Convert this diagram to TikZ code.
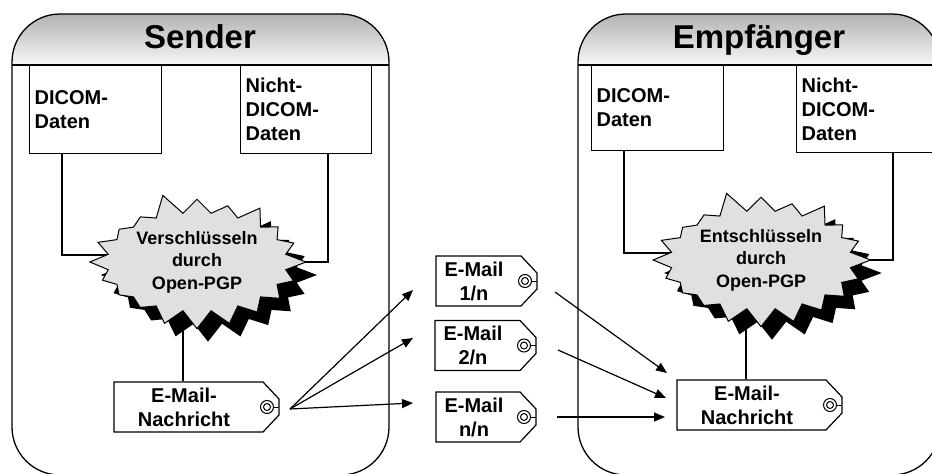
\documentclass[tikz,border=0pt]{standalone}
\usepackage{fontspec}
\setmainfont{Liberation Sans}
\usetikzlibrary{shapes.symbols,shadows,arrows.meta,calc,backgrounds}
\newcommand\tagoutline[3]{%
  \draw[tagline] ($(#1.center)+(#2,-25)$) -- ($(#1.center)+(#3-16,-25)$)
     -- ($(#1.center)+(#3,-8)$) -- ($(#1.center)+(#3,8)$)
     -- ($(#1.center)+(#3-16,25)$) -- ($(#1.center)+(#2,25)$) -- cycle;
  \draw[ringline] ($(#1.center)+(#3-12,0)$) circle (6.5pt) circle (3.5pt);
  \draw[ringline] ($(#1.center)+(#3-5.5,0)$) -- ($(#1.center)+(#3,0)$);
}
\begin{document}
\begin{tikzpicture}[x=1pt,y=-1pt,line width=1.2pt,
  panel/.style={draw,line width=1.3pt,rounded corners=48pt},
  title/.style={anchor=base,inner sep=0pt,font=\fontsize{33}{38}\selectfont\bfseries},
  databox/.style={draw,anchor=north west,inner xsep=5pt,inner ysep=0pt,
     text width=#1,align=left,minimum height=88pt,
     font=\fontsize{20}{24}\selectfont\bfseries},
  burst/.style={starburst,starburst points=20,starburst point height=22pt,
     random starburst=5,draw,line width=1pt,fill=black!12,inner xsep=3pt,inner ysep=4pt,
     drop shadow={shadow xshift=11pt,shadow yshift=-13pt,fill=black,opacity=1,draw=none},
     align=center,
     font=\fontsize{18}{22.5}\selectfont\bfseries},
  tagtext/.style={align=center,inner sep=0pt,minimum height=50pt,
     font=\fontsize{20}{24}\selectfont\bfseries},
  tagline/.style={draw,line width=1.2pt,fill=white},
  ringline/.style={draw,line width=1pt},
  conn/.style={draw,line width=1.2pt},
  arr/.style={draw,line width=1.2pt,-{Triangle[length=11pt,width=9pt]}}
]
\clip (0,0) rectangle (932,474);
% ---------- Sender panel ----------
\begin{scope}
  \clip[rounded corners=48pt] (12,14) rectangle (389,475);
  \shade[top color=black!30,bottom color=black!3] (12,14) rectangle (389,65);
\end{scope}
\draw[panel] (12,14) rectangle (389,475);
\draw[line width=1.3pt] (12,65) -- (389,65);
\node[title] (tS) at (200,48) {Sender};
% ---------- Receiver panel ----------
\begin{scope}
  \clip[rounded corners=48pt] (578,14) rectangle (940,475);
  \shade[top color=black!30,bottom color=black!3] (578,14) rectangle (940,65);
\end{scope}
\draw[panel] (578,14) rectangle (940,475);
\draw[line width=1.3pt] (578,65) -- (940,65);
\node[title] (tR) at (759,48) {Empfänger};
% ---------- data boxes ----------
\node[databox=122pt,minimum width=132pt] (d1) at (29,65) {DICOM-\\Daten};
\node[databox=121pt,minimum width=131pt] (n1) at (240,65) {Nicht-\\DICOM-\\Daten};
\node[databox=122pt,minimum width=132pt,minimum height=85pt] (d2) at (591,65) {DICOM-\\Daten};
\node[databox=129pt,minimum width=139pt,minimum height=87pt] (n2) at (796,65) {Nicht-\\DICOM-\\Daten};
% ---------- bursts ----------
\node[burst] (b1) at (197,262) {Verschlüsseln\\durch\\Open-PGP};
\node[burst] (b2) at (761,260) {Entschlüsseln\\durch\\Open-PGP};
% ---------- tags ----------
\node[tagtext] (ts) at (184,407) {E-Mail-\\Nachricht};
\node[tagtext] (m1) at (474,281) {E-Mail\\1/n};
\node[tagtext] (m2) at (473,345.5) {E-Mail\\2/n};
\node[tagtext] (m3) at (474,417) {E-Mail\\n/n};
\node[tagtext] (tr) at (747,405) {E-Mail-\\Nachricht};
\begin{pgfonlayer}{background}
  \tagoutline{ts}{-70}{95}
  \tagoutline{m1}{-38}{63}
  \tagoutline{m2}{-38}{63}
  \tagoutline{m3}{-38}{62}
  \tagoutline{tr}{-70}{95}
  % connectors
  \draw[conn] ($(d1.south west)+(33,0)$) |- ($(b1.center)+(0,-7)$);
  \draw[conn] ($(n1.south west)+(88,0)$) |- ($(b1.center)+(0,0)$);
  \draw[conn] ($(ts.north)+(-1,0)$) -- ($(b1.center)+(-14,0)$);
  \draw[conn] ($(d2.south west)+(33,0)$) |- ($(b2.center)+(0,-7)$);
  \draw[conn] ($(n2.south west)+(97,0)$) |- ($(b2.center)+(0,0)$);
  \draw[conn] ($(tr.north)+(-1,0)$) -- ($(b2.center)+(-15,0)$);
\end{pgfonlayer}
% ---------- arrows ----------
\coordinate (so) at ($(ts.center)+(106,2)$);
\draw[arr] (so) -- ($(m1.center)+(-61,9)$);
\draw[arr] (so) -- ($(m2.center)+(-60,-7.5)$);
\draw[arr] (so) -- ($(m3.center)+(-61,-14)$);
\draw[arr] ($(m1.center)+(81,11)$) -- ($(tr.center)+(-80,-32)$);
\draw[arr] ($(m2.center)+(85,4.5)$) -- ($(tr.center)+(-81,-7)$);
\draw[arr] ($(m3.center)+(83,0)$) -- ($(tr.center)+(-82,12)$);
\end{tikzpicture}
\end{document}
